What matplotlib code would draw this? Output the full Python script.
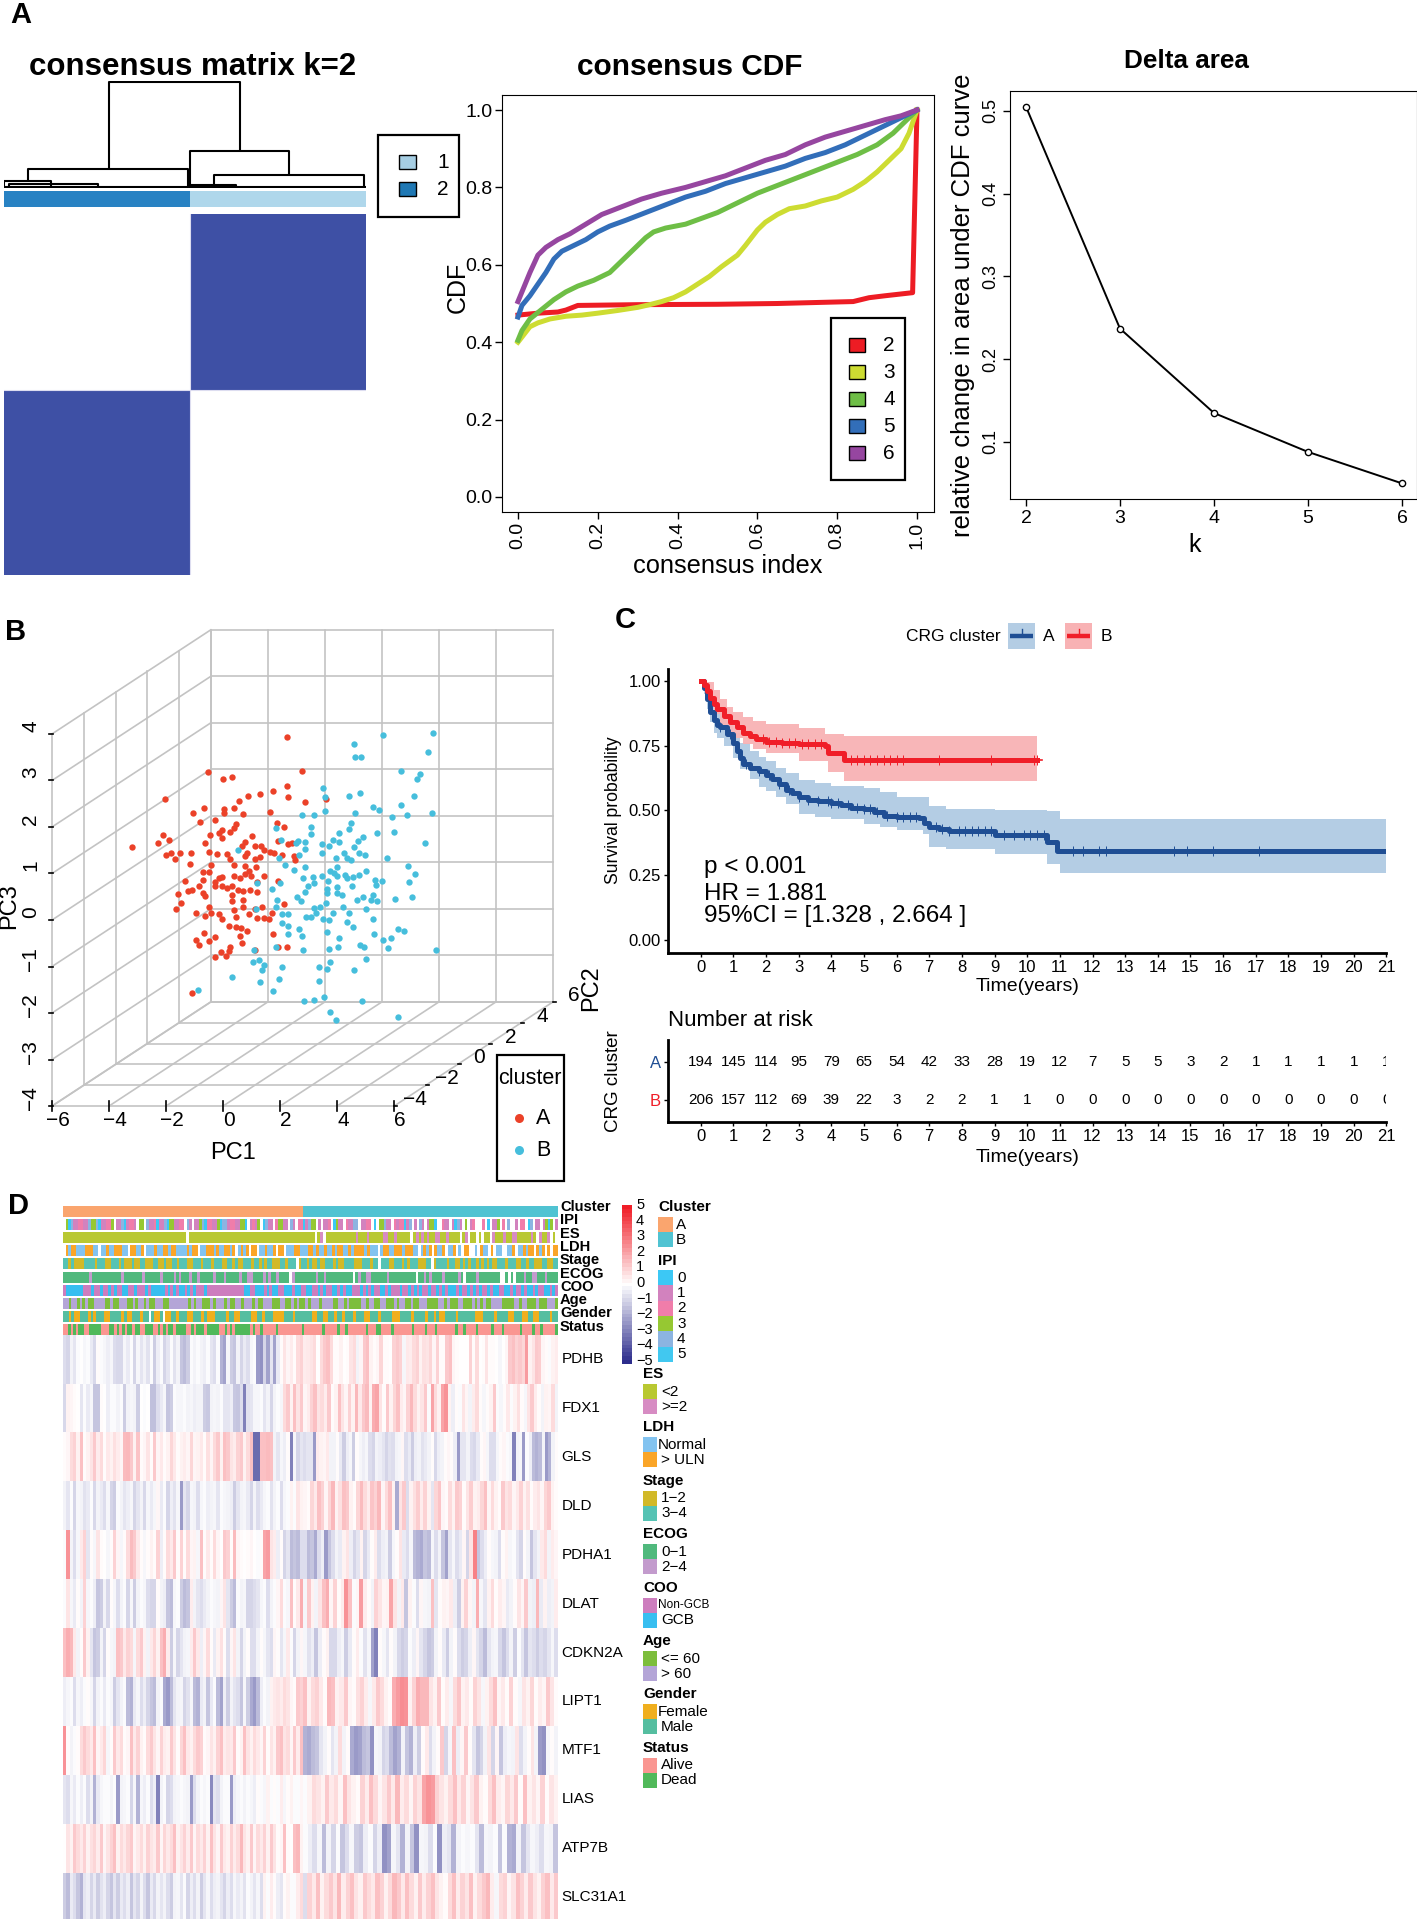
import matplotlib
matplotlib.use("Agg")
import matplotlib.pyplot as plt
import numpy as np
from matplotlib.colors import LinearSegmentedColormap, ListedColormap
from matplotlib.patches import Rectangle

W, H = 1417, 1919
plt.rcParams['font.family'] = ['Liberation Sans', 'DejaVu Sans']

# panel A
dend_segments = [
    ([0.289, 0.289, 0.651, 0.651], [0.18, 1.0, 1.0, 0.35]),
    ([0.065, 0.065, 0.509, 0.509], [0.065, 0.18, 0.18, 0.02]),
    ([0.514, 0.514, 0.788, 0.788], [0.02, 0.35, 0.35, 0.126]),
    ([0.581, 0.581, 0.995, 0.995], [0.01, 0.126, 0.126, 0.01]),
    ([0.0, 0.0, 0.13, 0.13], [0.0, 0.065, 0.065, 0.01]),
    ([0.015, 0.015, 0.26, 0.26], [0.0, 0.036, 0.036, 0.0]),
    ([0.514, 0.514, 0.64, 0.64], [0.0, 0.025, 0.025, 0.0]),
    ([0.0, 1.0], [0.005, 0.005]),
]
cluster_split_x = 0.514
cluster_split_y = 0.513
consensus = [[0, 1], [1, 0]]

cdf_index = {
    '2': [0, .05, .1, .12, .15, .3, .5, .65, .84, .88, .92, .989, 1],
    '3': [0, .015, .03, .05, .08, .12, .16, .2, .25, .3, .33, .36, .39, .42, .45, .48, .51, .55, .57, .6, .62, .65,
          .68, .72, .76, .8, .84, .87, .9, .93, .96, .98, 1],
    '4': [0, .01, .03, .06, .09, .12, .15, .19, .23, .26, .29, .32, .34, .37, .42, .46, .5, .55, .6, .65, .7, .75,
          .8, .85, .9, .94, .97, 1],
    '5': [0, .01, .03, .05, .07, .09, .11, .14, .17, .2, .23, .27, .32, .37, .42, .47, .52, .57, .62, .67, .72, .77,
          .82, .87, .92, .96, 1],
    '6': [0, .01, .03, .05, .07, .1, .13, .17, .21, .26, .31, .36, .42, .47, .52, .57, .62, .67, .72, .77, .82, .87,
          .92, .96, 1],
}
cdf_value = {
    '2': [.47, .475, .478, .483, .495, .497, .498, .50, .505, .515, .52, .528, 1],
    '3': [.40, .42, .44, .45, .46, .467, .47, .475, .482, .49, .497, .505, .515, .53, .55, .57, .595, .625, .65, .69,
          .71, .73, .745, .752, .765, .775, .795, .815, .84, .87, .90, .94, 1],
    '4': [.405, .43, .46, .485, .51, .53, .545, .56, .58, .61, .64, .67, .685, .695, .705, .72, .735, .76, .785, .805,
          .825, .845, .865, .885, .91, .94, .97, 1],
    '5': [.465, .495, .52, .55, .58, .615, .635, .65, .665, .685, .70, .715, .735, .755, .775, .79, .81, .825, .84,
          .855, .875, .89, .91, .935, .96, .98, 1],
    '6': [.505, .53, .58, .625, .645, .665, .68, .705, .73, .75, .77, .785, .80, .815, .83, .85, .87, .885, .91, .93,
          .945, .96, .975, .985, 1],
}
cdf_colors = {'2': '#ED1C24', '3': '#CDDC32', '4': '#6EBE46', '5': '#326EB9', '6': '#9646A0'}
delta_k = [2, 3, 4, 5, 6]
delta_area = [0.505, 0.237, 0.135, 0.088, 0.05]

# panel B, read on the front plane
pc1_a = [-3.18,-2.28,-2.11,-1.89,-2.05,-2.0,-1.81,-1.70,-1.50,-1.17,-1.14,-1.07,-.67,-.81,-.54,-.01,.32,2.23,2.77,.03,
         .04,.40,.55,.87,1.29,1.74,2.23,2.27,2.86,3.62,.71,1.64,-.30,.44,-.03,.24,.38,-.16,-.46,-.05,-.64,1.02,.78,.68,
         1.11,1.32,1.45,1.65,1.80,2.08,2.48,2.52,1.92,2.26,2.42,1.88,2.12,-.50,-.20,.13,.24,.85,.78,1.11,1.29,-.43,.38,
         .78,1.15,.91,1.45,-.70,-.50,-1.33,-.70,-.30,-.16,-.03,.40,.58,.78,.98,1.18,1.92,-.83,-1.23,-1.10,-.70,-.30,-.03,
         .13,.31,.51,.71,.95,1.18,-1.57,-1.48,-.63,.31,.71,-1.64,-.94,-.50,.30,.38,.71,1.11,1.38,2.12,1.72,-.63,-.43,-.13,
         -.03,.44,.91,1.18,1.42,1.62,.21,.44,.64,.85,-.66,-.30,-.94,-.86,-.50,.58,.67,1.74,.24,.21,-.09,-.27,.11,1.11,
         1.92,2.23,-1.10]
pc3_a = [1.57,1.65,1.82,1.72,2.61,1.39,1.43,1.31,1.45,1.20,1.43,2.31,2.40,2.11,3.19,3.03,3.07,3.93,3.21,2.38,
         2.29,2.40,2.55,2.67,2.71,2.77,2.88,2.64,2.53,2.61,2.28,2.33,2.15,2.07,1.94,1.90,1.97,1.86,1.82,1.76,1.65,1.80,
         1.68,1.60,1.60,1.60,1.50,1.46,1.45,1.40,1.37,1.28,1.70,1.64,1.65,2.09,2.01,1.46,1.41,1.42,1.31,1.43,1.37,1.31,
         1.35,1.19,1.19,1.17,1.14,1.06,.95,1.04,1.04,.83,.86,.81,.90,.92,.95,.90,.98,.94,.81,.83,.73,.63,.65,.59,.73,.73,
         .69,.73,.65,.63,.65,.61,.55,.36,.51,.53,.42,.23,.16,.28,.40,.21,.28,.24,.28,.34,.14,.09,.16,.12,.03,.06,.12,.05,
         .05,.03,-.12,-.15,-.17,-.23,-.28,-.36,-.44,-.54,-.46,-.34,-.50,-.30,-.58,-.67,-.69,-.79,-.77,-.65,-.58,-.59,-1.57]
pc1_b = [5.61,7.36,4.58,7.19,4.62,4.85,6.23,6.91,6.79,3.50,3.56,4.43,4.81,6.68,6.23,5.25,5.48,3.56,4.62,7.33,6.44,5.92,
         2.77,3.18,3.07,4.47,4.43,5.41,6.01,4.91,3.09,1.85,4.07,3.84,4.07,3.73,4.74,4.60,7.09,2.03,2.63,2.87,2.55,3.46,
         2.89,3.46,3.97,4.23,4.98,4.76,5.74,.54,1.95,2.68,2.16,2.87,4.47,4.34,4.0,3.76,3.89,6.48,6.72,2.48,5.03,2.79,3.17,
         3.46,4.0,4.26,4.34,4.54,4.78,3.69,3.19,2.99,1.99,1.72,1.18,5.34,5.58,5.38,4.51,4.0,6.52,3.66,4.0,4.17,2.86,2.59,
         2.72,1.88,6.62,6.04,4.91,4.71,5.20,5.41,5.27,3.66,3.60,3.40,3.19,4.20,5.0,1.85,1.14,2.05,2.28,2.92,3.09,3.26,3.84,
         4.42,3.50,3.70,5.25,2.05,2.26,2.66,3.64,4.35,4.54,5.28,6.12,6.35,2.28,2.76,4.07,5.88,5.61,1.85,2.79,3.70,4.03,4.81,
         4.94,5.79,7.46,1.07,5.03,1.05,1.25,1.45,1.38,2.08,3.36,3.76,3.66,4.58,.31,1.29,1.96,3.36,1.74,-.87,3.53,2.83,3.18,
         4.87,3.76,3.97,6.15]
pc3_b = [3.97,4.03,3.78,3.61,3.51,3.51,3.20,3.14,3.04,2.83,2.65,2.67,2.72,2.66,2.47,2.42,2.36,2.34,2.31,2.30,2.26,2.21,
         2.26,2.26,1.99,2.09,1.95,1.88,1.89,1.79,1.84,1.98,1.88,1.72,1.68,1.60,1.70,1.56,1.66,1.72,1.70,1.68,1.65,1.64,
         1.53,1.43,1.33,1.43,1.39,1.43,1.33,1.51,1.33,1.39,1.19,1.14,1.28,1.33,1.14,1.05,1.0,1.17,.99,1.08,1.06,.91,.92,
         .94,.95,.96,.90,.92,.97,.83,.79,.73,.79,.67,.79,.86,.83,.75,.73,.71,.81,.67,.59,.53,.61,.49,.40,.42,.50,.46,.50,
         .44,.43,.40,.54,.57,.36,.28,.26,.28,.23,.28,.23,.13,.12,.07,.07,.16,.16,.14,.03,.01,.03,-.07,-.13,-.19,-.26,-.05,
         -.16,-.30,-.19,-.23,-.30,-.34,-.38,-.38,-.42,-.58,-.64,-.63,-.57,-.54,-.58,-.61,-.65,-.65,-.84,-.91,-.87,-.97,-1.08,
         -1.01,-1.0,-.91,-1.06,-1.08,-1.23,-1.34,-1.27,-1.31,-1.53,-1.51,-1.65,-1.75,-1.72,-1.74,-1.98,-2.15,-2.09]

# panel C
t_a = [0,.1,.2,.3,.4,.5,.6,.8,1,1.1,1.2,1.3,1.5,1.8,2,2.2,2.4,2.6,2.8,3,3.3,3.6,4,4.3,4.6,5,5.3,5.6,6,6.7,6.85,7,7.3,7.6,9,10.6,10.9,21]
s_a = [1,.97,.93,.88,.85,.83,.82,.795,.76,.73,.70,.68,.665,.65,.635,.62,.60,.58,.565,.55,.54,.535,.53,.52,.51,.505,.495,.48,.475,.47,.45,.435,.43,.42,.404,.379,.345,.345]
t_a_ci = [0,.1,.2,.3,.4,.5,.7,1,1.2,1.5,1.8,2,2.3,2.6,3,3.5,4,5,5.5,6,6.8,7,7.5,9,10.6,11,21]
up_a = [1,.99,.96,.93,.90,.88,.85,.80,.76,.73,.705,.69,.665,.645,.618,.605,.595,.588,.57,.55,.55,.515,.507,.50,.497,.466,.466]
lo_a = [1,.95,.89,.84,.80,.78,.75,.70,.66,.62,.59,.575,.55,.525,.485,.475,.465,.448,.435,.426,.41,.36,.35,.33,.293,.257,.257]
t_b = [0,.1,.2,.3,.4,.5,.7,.9,1.1,1.3,1.5,1.7,2,2.5,3,3.8,3.9,4.2,4.4,10.3]
s_b = [1,.985,.96,.935,.91,.89,.865,.84,.82,.80,.785,.775,.765,.76,.755,.75,.72,.72,.695,.695]
t_b_ci = [0,.2,.4,.6,.8,1,1.3,1.6,2,3,3.8,3.9,4.4,10.3]
up_b = [1,.995,.965,.93,.90,.88,.86,.845,.832,.817,.795,.795,.788,.788]
lo_b = [1,.93,.87,.83,.80,.78,.755,.735,.72,.69,.69,.647,.615,.615]
cens_a = [.6,.9,1.4,1.8,2.1,2.4,2.7,3,3.3,3.6,3.9,4,4.2,4.5,4.8,5,5.2,5.4,5.7,6,6.2,6.4,6.6,7.2,7.4,7.6,7.9,8.1,
          8.3,8.5,8.7,8.9,9.3,9.6,9.9,10.1,10.3,10.5,11.4,11.7,12.2,12.4,14.5,14.9,15.7,17.1]
cens_b = [1.9,2.1,2.3,2.5,2.7,2.9,3.1,3.3,3.5,3.7,4.6,4.8,5,5.2,5.4,5.6,5.8,6,6.2,7.3,8.9,10.2,10.3]
risk_years = list(range(22))
risk_a = [194,145,114,95,79,65,54,42,33,28,19,12,7,5,5,3,2,1,1,1,1,1]
risk_b = [206,157,112,69,39,22,3,2,2,1,1,0,0,0,0,0,0,0,0,0,0,0]

# panel D, annotation tracks, '.' is missing
n_cluster = [194, 206]
track_names = ['Cluster', 'IPI', 'ES', 'LDH', 'Stage', 'ECOG', 'COO', 'Age', 'Gender', 'Status']
ipi = (".3041122114334011223.11401221.33.411201140331122.41.113402211304412211330.1213.0411.233"
       "11.41.2201433.1.112.0311.21144.1122.0.33411.2122014.1.41.1330..211.1041.3.12...2.0.1"
       "13.2.4..1.22.04.11.1303.1")
es = ("aaaaaaaaaaaaaaaaaaaaaaaaaaaaaaaaaaaaaaaaaaaaa.aaaaaaaaaaaaaaaaaaaaaaaaaaaaaaaaaaaaaaaaaaaaaa.ab.aaaaaaaaaa"
      "abaaabaaaaabbaabaaaaa.abababaabbaabaaaa.ab.aa.a.aa.baaabaabbaaaaaba.baab.a.")
ldh = (".babbaaabbbaa.aabaabbbaa.bbaab.aaabaabbabbaaaababb.aabbbabaabbab.abab.bb.aabaab.bb.aaabbaaabbabaabaa"
       "babbaababbbbabaaa.abbaabbbabbbaa.abab.baab.aab.a.bb..a.baa.b.aa..aab.aababb.bab.b.bb")
stage = ("bbabaaaabbbbabbbaabbbabaaabaabbaaabbaabaabbabbbaabbbabbbabbbaabbabaabbbabbababbaaabbabbb.abbabaabaab"
         "bbabaabbbbaaabbbabb.bbbaabbbababbbaaabb.abbbbabbaabababbabababaabbbabbbaabbabbaaabbaabb")
ecog = ("aaaaaaaaaabaaaaaaaaaaabaaaaaaabaaaaaabaaaababaaabaabaaaaabaaabaaaaabaabbaaaababaabaaaa.baaaaaaaabaab"
        "aaaaaaaaaa.abaabbaaaaaabaaaaaaaaaa.aababaaaabaaaaaba.aaaabaaaaaaaa..a.a.aaabaabbaaabaaaa")
coo = ("abbbbbbaaabaabaababaabbaabaaababbbbbabababbababaaabaaaaaaaaaaaaabbaabbbabab"
       "baabbbabbaabbaababaabbababbaaabababaabbabaaabaabababaabaabababbbabaabababaababbaabbabaababbabaabbaba")
age = ("bbabbababaabbbbaabaabbbaababbabaabbbaabbbbbbbababbaaababbbabaabbabbbabaabbbaaabbaababaababbbabbbbaabb"
       "abaaaabbabbaabbaaababbaabaabbbaaaabbabaaabbaaabababaabbbbaaaabbabbaaabaaabbba")
gender = ("bbabaabbbababbbaabbbbabaabbbabb.baab.aabbabbbaabbbabaaabbbbabbaabbbbaabbabbbaaaabbbabbbbbbaabbaabb"
          "abbabbbabbbaabbbabbbbaaabbbbabbbbabbabaabbbbabbbbbbaaabbbbabbbbaabbbaabbaabbbbabb")
status = ("aabababbaabbbbbaaabbabababbabbaabbbaabababbabbbbaababbbabbbbbaabababbbbbbabaabaaaaabaaaaaaaa"
          "abaaaaaaabaaaaabaabaaaaaaabaaabbaaaabaaaaaaabaaaabaaabaaaaaaabaabaaaabaaaaabaaabaaaaaabaaaabaabaaaaab")
track_palettes = {
    'Cluster': {'a': '#FAA56E', 'b': '#50C3D2'},
    'IPI': {'0': '#3CC8F5', '1': '#D282BE', '2': '#F07DAA', '3': '#96C832', '4': '#8CB4E1', '5': '#41C8F0'},
    'ES': {'a': '#B9C832', 'b': '#D78CC3'},
    'LDH': {'a': '#82C3F0', 'b': '#FAA528'},
    'Stage': {'a': '#D2B928', 'b': '#55C3B4'},
    'ECOG': {'a': '#50B97D', 'b': '#C39BCD'},
    'COO': {'a': '#CD7DBE', 'b': '#37BEF0'},
    'Age': {'a': '#7DBE3C', 'b': '#B4A5D7'},
    'Gender': {'a': '#F0AF1E', 'b': '#55BEA0'},
    'Status': {'a': '#FA9691', 'b': '#50B95A'},
}

# panel D, gene rows in tenths of the colour scale, first 72 values are cluster A
n_left = 72
gene_names = ['PDHB', 'FDX1', 'GLS', 'DLD', 'PDHA1', 'DLAT', 'CDKN2A', 'LIPT1', 'MTF1', 'LIAS', 'ATP7B', 'SLC31A1']
pdhb = [-8,-10,-3,-6,-1,0,-2,-1,-5,-9,1,-1,-2,-4,-2,-8,-9,-9,-2,-5,-1,-10,-2,-6,-3,-7,-1,-12,-4,-1,-10,-6,-1,-7,-3,
        -14,-16,-12,-1,-3,-1,-3,-4,-1,-6,-8,-1,-18,-22,-2,-12,-14,-3,-10,-5,-8,-2,-1,-24,-26,-10,-22,-6,-22,-5,1,6,2,4,1,8,10,
        4,5,6,8,0,8,12,14,8,1,1,3,0,1,6,8,-3,2,12,14,3,1,2,9,1,1,0,10,12,10,-2,5,4,8,10,3,7,6,9,2,10,1,1,12,14,2,1,0,0,0,
        10,1,8,0,1,6,1,1,0,-2,0,2,12,14,10,12,9,22,3,6,12,11,2,1,-1,3,4]
fdx1 = [-9,3,2,1,0,-6,-1,-5,-2,-14,-14,1,0,-4,-1,-1,-3,-1,-12,-3,-2,-3,-12,0,-1,0,-15,-15,-8,-5,-2,-14,-12,-1,-2,-2,-1,-3,-2,-4,
        -3,-3,-12,-13,-3,-2,-3,-1,-6,-6,-4,-13,-14,-8,-30,-7,-6,-2,-2,-1,-6,-3,-10,-3,-1,-2,8,12,3,14,6,12,
        2,4,10,14,6,8,4,12,1,3,14,6,2,10,3,16,5,12,15,3,18,20,6,1,12,3,9,14,4,2,10,16,8,3,6,12,-1,20,8,3,20,24,3,-4,1,-1,6,2,-3,4,8,1,-2,1,3,12,
        -1,-2,1,5,-1,3,7,1,-2,6,12,4,1,-3,3,2,8,-3]
gls = [1,2,8,10,3,14,1,3,6,12,4,8,1,5,3,7,4,2,15,16,12,3,13,1,2,6,1,12,2,5,1,3,9,5,1,3,4,2,9,2,3,5,1,7,2,8,12,3,14,12,6,4,10,12,3,8,
       14,-35,-35,14,14,15,14,-3,-6,-2,-4,1,-30,-2,-10,-6,
       -8,-6,-6,-24,4,3,2,5,-3,-3,1,-5,-12,-4,-2,-12,1,-2,-4,-2,-8,-10,-3,-4,-6,-10,-7,-8,-3,-2,2,-8,-5,-12,-4,-3,-7,-5,-3,1,-9,-4,-3,1,2,1,-4,-24,
       -6,-6,-3,-8,-9,-5,1,2,-2,-8,-8,-2,1,2,-1,-2,-30,-3,-2,-24,-1,-4,-16,-18,-16,-3,-24,-18,-3,1]
dld = [-3,-6,-1,-10,-2,-3,-7,-5,-1,-9,-3,-5,-8,-2,-10,-12,-1,-3,-6,-4,-2,-10,-6,-3,-9,-2,-5,-2,2,-5,-1,-10,-4,-7,-2,-24,-6,-10,-2,-3,-8,-2,-1,-4,
       -3,-2,-6,-1,-2,-3,-4,-12,-6,-3,-2,-5,-10,-3,-8,-5,-2,-1,-7,-3,-1,-8,-2,-1,3,-1,6,3,
       2,1,9,5,14,10,2,9,16,3,7,14,12,3,1,9,15,8,4,13,10,16,2,8,14,3,-20,6,12,-8,3,7,11,4,10,3,-6,9,13,2,1,8,3,12,10,1,6,11,3,4,9,14,2,8,3,1,12,6,8,2,5,10,3,7,1,4,6,2,9,12,3,1]
pdha1 = [-1,24,-3,-8,-2,5,10,-6,1,-2,6,1,0,-2,1,10,2,-2,1,8,15,12,5,1,-2,1,3,1,10,-4,1,8,5,12,1,10,1,8,2,3,-2,14,1,5,1,8,2,0,12,10,1,15,2,1,0,1,2,
         0,-1,1,20,22,6,4,-4,1,-10,-6,-16,-14,-16,-8,
         -8,-16,-14,-20,-8,-4,-24,-14,-8,-3,-5,3,6,-4,-10,-6,3,-10,-5,1,4,-8,-4,-3,-12,-2,1,6,-5,-8,-2,-16,-18,-20,-14,-16,-2,-8,-3,-14,-22,-6,-2,-8,-5,2,-10,6,28,-14,-8,-4,1,-2,-3,-8,1,3,-2,-1,-6,-10,1,-3,-14,-6,-3,5,8,-3,4,2]
dlat = [-1,6,-2,-5,1,-3,10,-2,-1,-4,-14,-12,-3,-9,1,-2,-8,-3,-1,-10,-2,-12,-3,-1,-2,-8,-10,-10,1,-3,-4,-14,-16,-2,-1,-12,-16,-14,4,-3,-6,-8,-5,-3,-1,-2,-3,2,6,-6,-12,-16,-1,-3,-2,
        -10,-10,-8,-6,-2,-1,-8,-3,-1,2,8,-1,-2,14,1,5,18,
        -2,12,3,-3,6,14,18,2,10,1,4,24,14,-1,2,22,4,1,-3,10,6,2,3,20,6,-3,5,-14,3,-1,-8,2,-2,-3,14,-6,1,3,2,5,-4,-12,3,10,2,-3,18,-2,-6,3,8,1,4,2,-5,-3,1,6,2,12,-3,-4,16,-5,3,-4,-3,4]
cdkn2a = [14,18,16,5,-3,1,12,3,-6,-14,-12,-3,-10,1,-2,-3,14,12,5,10,8,-2,8,12,3,-3,5,9,3,14,18,4,-12,-2,-10,-6,-3,-2,4,12,5,-4,2,8,1,-5,3,7,1,-8,2,6,-3,-10,-3,1,-8,-8,-3,1,-2,-6,-8,2,1,-6,-2,5,-1,-10,-3,2,
          -2,-7,-4,-14,-4,1,3,-9,-9,-4,-2,-12,-5,1,4,-1,-7,-2,-22,-30,1,-2,-6,1,-3,-9,-12,-10,-1,-4,2,-6,-10,-14,-12,-3,1,-5,-12,-3,1,-8,-12,-10,-4,2,-6,-10,-16,-6,-3,-2,-9,-14,-8,-3,-12,-1,-6,-14,-6,-8,-12,-8,-10,-6,-2,-8]
lipt1 = [-4,-2,-1,-8,-2,-4,-1,1,-2,-10,-3,-1,-5,-1,-2,-12,-6,-3,-1,-16,-18,-5,-2,-8,-4,-10,-14,-16,-3,-1,-20,-24,-16,-6,-3,-2,-10,-7,-2,-16,-18,-5,-3,-14,-5,-1,-16,-22,-4,-12,-3,-6,-8,-14,-2,-12,-20,-24,-16,-4,-1,-3,
         3,5,6,4,8,6,2,1,12,10,
         14,3,8,10,5,1,16,14,3,5,12,2,1,7,10,4,-2,5,12,8,3,1,18,22,25,24,3,10,18,16,16,6,3,12,1,4,-2,8,13,3,5,1,10,6,-2,3,8,14,2,5,1,10,1,-2,6,3,9,1,4,2,12,6,1]
mtf1 = [24,1,-3,-1,1,8,12,8,5,14,2,5,9,-2,1,12,5,8,1,2,14,5,10,3,1,8,12,6,2,10,4,3,12,6,1,9,14,5,3,8,12,10,1,2,6,3,10,14,4,6,5,12,1,3,14,6,3,8,5,2,10,1,6,3,12,14,6,8,2,12,4,14,
        -18,-20,-16,-14,-6,-3,1,-6,-3,8,-3,1,-20,-24,-22,-16,-14,-26,-2,-3,-10,-8,-16,-22,-18,-3,-14,-18,-4,-12,1,5,-8,-3,1,12,-10,-2,14,-4,2,12,1,-6,-14,-10,-3,6,-10,2,-14,-4,-2,-3,6,-8,-3,1,6,-3,-24,-26,-2,1,-3]
lias = [-6,-8,-2,-5,-1,-4,-1,-8,-3,-18,-5,-2,-1,-1,-3,-1,-24,-3,-2,-1,-10,-2,-18,-2,-4,-1,-8,-4,-30,-3,-1,-10,-8,-3,-2,-1,-2,-3,-24,-8,-3,-1,-2,-1,-28,-6,-8,-3,-1,-1,-24,-4,-2,-1,-3,-1,-2,-4,1,-1,-2,3,-1,1,-1,4,-2,1,3,-1,-1,2,
        -1,3,8,6,3,12,5,8,2,14,6,3,1,10,4,14,8,2,6,12,5,16,4,8,2,10,6,20,24,22,10,6,3,8,14,5,10,2,6,12,3,1,8,14,4,2,9,5,12,1,14,3,6,2,10,1,6,3]
atp7b = [0,6,3,12,8,5,10,3,7,9,4,12,2,6,10,14,3,8,5,9,12,2,5,8,3,10,6,4,12,2,9,5,8,14,3,6,10,4,12,2,8,5,10,3,14,6,2,12,5,3,10,4,8,16,6,3,12,2,8,5,10,3,12,6,1,2,14,1,0,14,16,3,
         -1,-4,-8,-2,-16,-3,-10,-1,-14,-8,-2,-12,-14,-4,-1,-10,-4,-26,-22,-2,-6,-18,-3,-14,-26,-2,-3,-8,-1,-26,-4,-6,-18,-3,-1,-2,-1,-6,-16,-2,-3,-1,-14,-1,-18,-20,-3,-14,-6,-2,-4,-8,-2,-3,-14]
slc31a1 = [-12,-16,-5,-8,-14,-18,-6,-4,-10,-5,-12,-7,-4,-10,-14,-6,-12,-5,-8,-4,-14,-6,-10,-3,-8,-14,-5,-9,-3,-6,-3,-8,-12,-3,-2,-6,-1,-10,-4,-8,-3,-12,-6,-2,-8,-4,-3,-6,-10,-4,-8,-2,-5,-3,-7,-1,-3,-6,-2,-8,3,-1,4,1,-4,-6,1,3,-1,-1,4,8,
           -8,10,5,14,3,8,12,6,16,4,10,14,6,3,12,8,5,14,10,3,8,16,12,5,14,8,3,12,4,10,14,6,3,1,8,14,4,10,6,14,3,8,12,16,4,-2,8,10,2,6,14,10,4,12,6,3,10,14,5,12]
gene_rows = [pdhb, fdx1, gls, dld, pdha1, dlat, cdkn2a, lipt1, mtf1, lias, atp7b, slc31a1]

legend_groups = [
    ('ES', ['<2', '>=2'], ['#B9C832', '#D78CC3']),
    ('LDH', ['Normal', '> ULN'], ['#82C3F0', '#FAA528']),
    ('Stage', ['1\u22122', '3\u22124'], ['#D2B928', '#55C3B4']),
    ('ECOG', ['0\u22121', '2\u22124'], ['#50B97D', '#C39BCD']),
    ('COO', ['Non-GCB', 'GCB'], ['#CD7DBE', '#37BEF0']),
    ('Age', ['<= 60', '> 60'], ['#7DBE3C', '#B4A5D7']),
    ('Gender', ['Female', 'Male'], ['#F0AF1E', '#55BEA0']),
    ('Status', ['Alive', 'Dead'], ['#FA9691', '#50B95A']),
]
ipi_labels = ['0', '1', '2', '3', '4', '5']

fig = plt.figure(figsize=(W / 100, H / 100), dpi=100)


def px_axes(x0, y0, x1, y1):
    return fig.add_axes([x0 / W, 1 - y1 / H, (x1 - x0) / W, (y1 - y0) / H])


# overlay in pixels, for labels and legend boxes
ov = px_axes(0, 0, W, H)
ov.set_xlim(0, W)
ov.set_ylim(H, 0)
ov.axis('off')
ov.set_zorder(10)


def label(x, y, s, size, **kw):
    kw.setdefault('va', 'center')
    kw.setdefault('ha', 'left')
    ov.text(x, y, s, fontsize=size, **kw)


def box(x0, y0, x1, y1, fc='none', ec='black', lw=1.5, **kw):
    ov.add_patch(Rectangle((x0, y0), x1 - x0, y1 - y0, fc=fc, ec=ec, lw=lw, **kw))


for s, x, y in [('A', 10, 15), ('B', 5, 632), ('C', 615, 620), ('D', 8, 1206)]:
    label(x, y, s, 21, fontweight='bold')

# consensus matrix
label(193, 67, 'consensus matrix k=2', 22.5, fontweight='bold', ha='center')
ax = px_axes(4, 81, 366, 188)
for xs, hs in dend_segments:
    ax.plot(xs, hs, color='black', lw=1.5, solid_capstyle='butt')
ax.set_xlim(0, 1)
ax.set_ylim(0, 1.01)
ax.axis('off')

ax = px_axes(4, 191, 366, 207)
ax.pcolormesh([0, cluster_split_x, 1], [0, 1], [[0, 1]], cmap=ListedColormap(['#2882C3', '#AFD7EB']))
ax.axis('off')

ax = px_axes(4, 214, 366, 575)
ax.pcolormesh([0, cluster_split_x, 1], [1, cluster_split_y, 0], consensus,
              cmap=LinearSegmentedColormap.from_list('cons', ['white', '#3E50A5']))
ax.plot([cluster_split_x] * 2, [0, 1], color='#DDDDF0', lw=0.8)
ax.plot([0, 1], [cluster_split_y] * 2, color='#DDDDF0', lw=0.8)
ax.set_xlim(0, 1)
ax.set_ylim(0, 1)
ax.axis('off')

box(378, 135, 459, 217, lw=1.6)
for y, c, s in [(162, '#A6CEE3', '1'), (189, '#1F78B4', '2')]:
    box(399, y - 7, 416, y + 7, fc=c, lw=1)
    label(437, y, s, 15)

# consensus CDF
label(690, 67, 'consensus CDF', 21.5, fontweight='bold', ha='center')
ax = px_axes(502, 95, 934, 512)
for k in cdf_index:
    ax.plot(cdf_index[k], cdf_value[k], color=cdf_colors[k], lw=3.6, solid_joinstyle='round')
ax.set_xlim(-.04, 1.0426)
ax.set_ylim(-.0388, 1.0388)
ax.set_xticks([0, .2, .4, .6, .8, 1])
ax.set_xticklabels(['0.0', '0.2', '0.4', '0.6', '0.8', '1.0'], rotation=90, fontsize=14)
ax.set_yticks([0, .2, .4, .6, .8, 1])
ax.set_yticklabels(['0.0', '0.2', '0.4', '0.6', '0.8', '1.0'], fontsize=14)
ax.tick_params(length=5, width=1, pad=2)
label(458, 287, 'CDF', 18, rotation=90, ha='center')
label(728, 566, 'consensus index', 18.3, ha='center')
box(831, 318, 905, 480, lw=1.6)
for k, y in zip(cdf_index, [345, 372, 399, 426, 453]):
    box(849, y - 7, 865, y + 7, fc=cdf_colors[k], lw=1)
    label(889, y, k, 15, ha='center')

# delta area
label(1186, 61, 'Delta area', 18.8, fontweight='bold', ha='center')
ax = px_axes(1010, 91, 1417, 499)
ax.plot(delta_k, delta_area, color='black', lw=1.4, marker='o', ms=4.5, mfc='white', mew=1)
ax.set_xlim(1.83, 6.16)
ax.set_ylim(.0311, .524)
ax.set_xticks(delta_k)
ax.set_xticklabels([str(k) for k in delta_k], fontsize=14)
ax.set_yticks([.1, .2, .3, .4, .5])
ax.set_yticklabels(['0.1', '0.2', '0.3', '0.4', '0.5'], rotation=90, va='center', fontsize=13)
ax.tick_params(length=5, width=1, pad=3)
label(1195, 545, 'k', 18, ha='center')
label(963, 305, 'relative change in area under CDF curve', 18.5, rotation=90, ha='center')

# 3D scatter, oblique projection as in scatterplot3d
ax = px_axes(0, 620, 600, 1200)
ax.set_xlim(-7.824, 13.22)
ax.set_ylim(-6.02, 6.45)
ax.axis('off')
dx_per_pc2 = 0.557
dz_per_pc2 = 0.2239


def proj(pc1, pc2, pc3):
    return pc1 + (pc2 + 4) * dx_per_pc2, pc3 + (pc2 + 4) * dz_per_pc2


pc1_ticks = [-6, -4, -2, 0, 2, 4, 6]
pc2_ticks = [-4, -2, 0, 2, 4, 6]
pc3_ticks = [-4, -3, -2, -1, 0, 1, 2, 3, 4]
grid = dict(color='#C3C3C3', lw=1.2, zorder=1)


def line3(a, b):
    xa, za = proj(*a)
    xb, zb = proj(*b)
    ax.plot([xa, xb], [za, zb], **grid)


for v in pc1_ticks:
    line3((v, -4, -4), (v, 6, -4))
    line3((v, 6, -4), (v, 6, 4))
for v in pc2_ticks:
    line3((-6, v, -4), (6, v, -4))
    line3((-6, v, -4), (-6, v, 4))
for v in pc3_ticks:
    line3((-6, -4, v), (-6, 6, v))
    line3((-6, 6, v), (6, 6, v))
ax.scatter(pc1_a, pc3_a, s=21, color='#EB4128', lw=0, zorder=3)
ax.scatter(pc1_b, pc3_b, s=21, color='#46BEDC', lw=0, zorder=3)
for v in pc1_ticks:
    ax.plot([v, v], [-4.1, -3.9], color='black', lw=1.2, zorder=4)
    ax.text(v + .2, -4.32, str(v).replace('-', '\u2212'), fontsize=15, ha='center', va='center')
for v in pc3_ticks:
    ax.plot([-6.1, -5.95], [v, v], color='black', lw=1.2, zorder=4)
    ax.text(-6.74, v + .17, str(v).replace('-', '\u2212'), fontsize=15, ha='center', va='center', rotation=90)
for v in pc2_ticks:
    x, z = proj(6, v, -4)
    ax.plot([x, x + .1], [z, z], color='black', lw=1.2, zorder=4)
    ax.text(x + .74, z + .14, str(v).replace('-', '\u2212'), fontsize=15, ha='center', va='center')
label(233, 1153, 'PC1', 17, ha='center')
label(9, 906, 'PC3', 17, ha='center', rotation=90)
label(591, 988, 'PC2', 17, ha='center', rotation=90)
box(497, 1055, 564, 1181, fc='white', lw=1.6)
label(530, 1078, 'cluster', 15.5, ha='center')
for y, c, s in [(1118, '#EB4128', 'A'), (1150, '#46BEDC', 'B')]:
    ov.plot([519], [y], 'o', color=c, ms=6.5, mew=0)
    label(543, y, s, 15.5, ha='center')

# survival
ax = px_axes(668, 669, 1386.4, 953)
ax.fill_between(t_a_ci, lo_a, up_a, step='post', color='#B4CDE4', lw=0)
ax.fill_between(t_b_ci, lo_b, up_b, step='post', color='#F8B2B4', alpha=0.95, lw=0)
ax.step(t_a, s_a, where='post', color='#1F4E94', lw=3.6)
ax.step(t_b, s_b, where='post', color='#F01E28', lw=3.6)
ax.plot(cens_a, [s_a[np.searchsorted(t_a, t, side='right') - 1] for t in cens_a], '|', color='#1F4E94', ms=7.5, mew=.7)
ax.plot(cens_b, [s_b[np.searchsorted(t_b, t, side='right') - 1] for t in cens_b], '|', color='#F01E28', ms=7.5, mew=.7)
ax.plot([10.3, 10.45], [s_b[-1], s_b[-1]], color='#F01E28', lw=1.2)
ax.set_xlim(-1, 21)
ax.set_ylim(-.05, 1.045)
ax.set_xticks(risk_years)
ax.set_yticks([0, .25, .5, .75, 1])
ax.set_yticklabels(['0.00', '0.25', '0.50', '0.75', '1.00'])
ax.tick_params(labelsize=12, length=3, width=1, pad=2)
for side in ('top', 'right'):
    ax.spines[side].set_visible(False)
for side in ('left', 'bottom'):
    ax.spines[side].set_linewidth(2)
label(613, 810, 'Survival probability', 12.7, rotation=90, ha='center')
label(1028, 986, 'Time(years)', 14, ha='center')
label(704, 867, 'p < 0.001', 17.5)
label(704, 894, 'HR = 1.881', 17.5)
label(704, 916, '95%CI = [1.328 , 2.664 ]', 17.5)

label(906, 636, 'CRG cluster', 12.5)
for x0, bg, fg, s in [(1008, '#B4CDE4', '#1F4E94', 'A'), (1065, '#F8B2B4', '#F01E28', 'B')]:
    box(x0, 623, x0 + 27, 649, fc=bg, ec='none', lw=0)
    ov.plot([x0 + 2, x0 + 25], [636, 636], color=fg, lw=3.2, solid_capstyle='butt')
    ov.plot([x0 + 13.5, x0 + 13.5], [629, 636], color=fg, lw=1)
    label(x0 + 41, 636, s, 12.5, ha='center')

ax = px_axes(668, 1040, 1386.4, 1122)
ax.set_xlim(-1, 21)
ax.set_ylim(1.579, -.579)
ax.set_xticks(risk_years)
ax.set_yticks([0, 1])
ax.set_yticklabels(['A', 'B'])
ax.get_yticklabels()[0].set_color('#1F4E94')
ax.get_yticklabels()[1].set_color('#F01E28')
ax.tick_params(labelsize=12, length=3, width=1, pad=2)
for yr, a, b in zip(risk_years, risk_a, risk_b):
    ax.text(yr, 0, str(a), fontsize=11, ha='center', va='center', clip_on=True)
    ax.text(yr, 1, str(b), fontsize=11, ha='center', va='center', clip_on=True)
for side in ('top', 'right'):
    ax.spines[side].set_visible(False)
for side in ('left', 'bottom'):
    ax.spines[side].set_linewidth(2)
label(668, 1020, 'Number at risk', 16)
label(613, 1081, 'CRG cluster', 13.5, rotation=90, ha='center')
label(1028, 1157, 'Time(years)', 14, ha='center')

# annotation tracks
ax = px_axes(63, 1206, 558, 1337)
ax.set_xlim(0, 1)
ax.set_ylim(10, 0)
ax.axis('off')
cluster_col = ['a'] * n_cluster[0] + ['b'] * n_cluster[1]
tracks = [''.join(cluster_col), ipi, es, ldh, stage, ecog, coo, age, gender, status]
for i, (name, trk) in enumerate(zip(track_names, tracks)):
    pal = track_palettes[name]
    keys = list(pal)
    vals = np.array([keys.index(c) if c in pal else -1 for c in trk], dtype=float)
    cm = ListedColormap(list(pal.values()))
    cm.set_bad('white')
    vals = np.ma.masked_less(vals, 0)
    ax.pcolormesh(np.linspace(0, 1, len(trk) + 1), [i, i + .84], vals[None, :], cmap=cm, vmin=-.5, vmax=len(keys) - .5)
    label(560, 1207 + i * 13.3, name, 10.6, fontweight='bold')

# gene rows, left part of each row fills cluster A's width
heat = LinearSegmentedColormap.from_list('heat', ['#2D2D8C', 'white', '#F01E28'])
ax = px_axes(63, 1334.7, 558, 1334.7 + 12 * 48.9)
ax.set_xlim(0, 1)
ax.set_ylim(12, 0)
ax.axis('off')
split = n_cluster[0] / sum(n_cluster)
for i, (name, row) in enumerate(zip(gene_names, gene_rows)):
    vals = np.array(row)[None, :] / 10
    edges = np.r_[np.linspace(0, split, n_left + 1), np.linspace(split, 1, len(row) - n_left + 1)[1:]]
    ax.pcolormesh(edges, [i, i + 1], vals, cmap=heat, vmin=-5, vmax=5)
    label(561.5, 1334.7 + (i + .5) * 48.9, name, 11)

# colour scale
ax = px_axes(621.5, 1205, 631.5, 1364)
scale = np.linspace(-5, 5, 41)
ax.pcolormesh([0, 1], np.linspace(-5.2, 5.2, 42), scale[:, None], cmap=heat, vmin=-5, vmax=5)
ax.axis('off')
for v in range(-5, 6):
    label(636, 1283 - v * 15.6, str(v).replace('-', '\u2212'), 10.5)

# legends
label(658, 1207, 'Cluster', 11, fontweight='bold')
for j, (s, c) in enumerate(zip(['A', 'B'], ['#FAA56E', '#50C3D2'])):
    box(658, 1217 + j * 15, 673, 1232 + j * 15, fc=c, ec='none', lw=0)
    label(676, 1224.5 + j * 15, s, 11)
label(658, 1261, 'IPI', 11, fontweight='bold')
for j, s in enumerate(ipi_labels):
    box(658, 1270 + j * 15.3, 673, 1285.3 + j * 15.3, fc=track_palettes['IPI'][s], ec='none', lw=0)
    label(677, 1277.6 + j * 15.3, s, 11)
for i, (title, names, colors) in enumerate(legend_groups):
    y = 1374 + i * 53.4
    label(643, y, title, 11, fontweight='bold')
    for j, (s, c) in enumerate(zip(names, colors)):
        box(643, y + 10 + j * 15, 657, y + 25 + j * 15, fc=c, ec='none', lw=0)
        size = 8.5 if s == 'Non-GCB' else 11
        label(658 if s in ('Normal', 'Non-GCB', 'Female') else 661, y + 17.5 + j * 15, s, size)

fig.savefig('out.png', dpi=100)
